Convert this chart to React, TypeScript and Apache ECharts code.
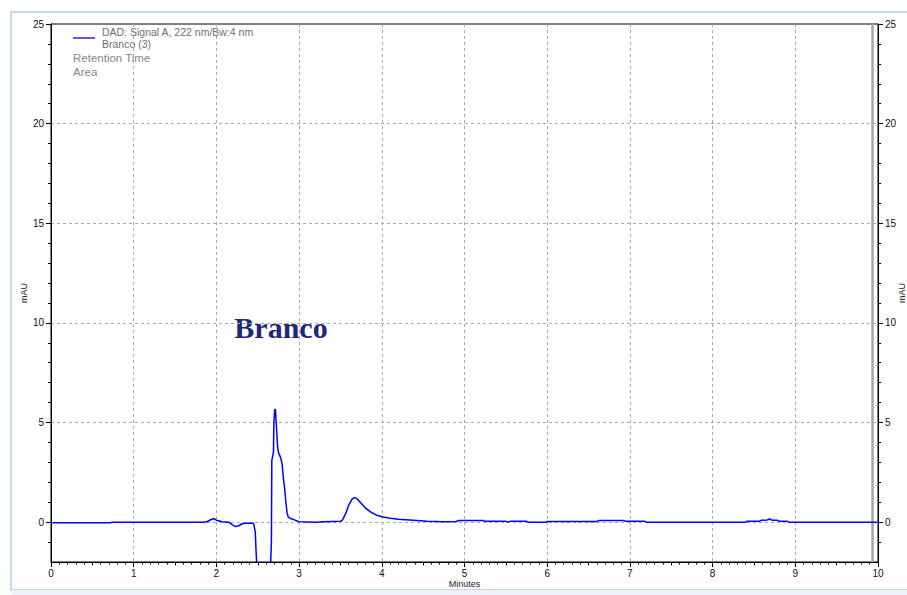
import React, { useEffect, useRef } from "react";
import * as echarts from "echarts";

// Retention time (min) of each sampled point of the DAD trace
const minutes = [
  0, 0.72, 0.74, 0.85, 0.86, 0.87, 1.0, 1.5, 1.85, 1.885, 1.93, 1.97, 2.0, 2.07, 2.15, 2.19, 2.23, 2.27,
  2.31, 2.35, 2.45, 2.47, 2.48, 2.5, 2.55, 2.6, 2.64, 2.665, 2.67, 2.69, 2.695, 2.705, 2.715, 2.72, 2.74,
  2.75, 2.78, 2.795, 2.81, 2.825, 2.84, 2.855, 2.87, 2.9, 2.95, 3.0, 3.2, 3.3, 3.5, 3.52, 3.56, 3.6, 3.64,
  3.67, 3.7, 3.75, 3.8, 3.88, 3.95, 4.0, 4.1, 4.2, 4.38, 4.55, 4.75, 4.9, 4.93, 5.23, 5.25, 5.5, 5.52,
  5.55, 5.75, 5.77, 5.99, 6.0, 6.6, 6.62, 6.93, 6.95, 7.18, 7.2, 8.4, 8.42, 8.57, 8.59, 8.66, 8.69, 8.72,
  8.78, 8.8, 8.9, 8.92, 10,
];

// Absorbance (mAU) at 222 nm for each retention time above
const absorbance = [
  -0.03, -0.03, 0.0, 0.0, -0.03, 0.0, 0.0, 0.0, 0.0, 0.02, 0.12, 0.18, 0.1, 0.02, 0.0, -0.12, -0.22, -0.18,
  -0.08, -0.06, -0.06, -0.5, -1.5, -3, -6, -6, -4, -1, 3.1, 3.5, 5.0, 5.65, 5.65, 5.2, 3.8,
  3.5, 3.2, 2.9, 2.2, 1.7, 1.0, 0.45, 0.25, 0.18, 0.1, 0.02, 0.0, 0.02, 0.05, 0.08, 0.4, 0.85, 1.15,
  1.23, 1.18, 0.95, 0.72, 0.47, 0.33, 0.27, 0.2, 0.15, 0.1, 0.05, 0.02, 0.03, 0.08, 0.08, 0.04, 0.04, 0.0,
  0.04, 0.04, 0.0, 0.0, 0.03, 0.03, 0.08, 0.08, 0.04, 0.04, 0.0, 0.0, 0.05, 0.05, 0.1, 0.11, 0.16, 0.1,
  0.1, 0.05, 0.05, 0.0, 0.0,
];

const yMajorTicks = [0, 5, 10, 15, 20, 25];
const yMinorTicks = [-1, 1, 2, 3, 4, 6, 7, 8, 9, 11, 12, 13, 14, 16, 17, 18, 19, 21, 22, 23, 24];
const cursorMinute = 9.93;

const legendLines = ["DAD: Signal A, 222 nm/Bw:4 nm", "Branco (3)"];
const legendFields = ["Retention Time", "Area"];
const sampleTitle = "Branco";

const FONT = "'Liberation Sans', Arial, sans-serif";

export default function App() {
  const ref = useRef<HTMLDivElement>(null);

  useEffect(() => {
    if (!ref.current) return;
    const chart = echarts.init(ref.current, undefined, { renderer: "svg" });

    const tickLabel = { color: "#111", fontSize: 10, fontFamily: FONT };
    const axisLine = { show: true, onZero: false, lineStyle: { color: "#000", width: 1 } };
    const hiddenLine = { show: false, onZero: false };
    const gridDash = { color: "#a8a8a8", width: 1, type: [3, 3] as number[] };

    const xCommon = { type: "value" as const, min: 0, max: 10, position: "bottom" as const };
    const yCommon = { type: "value" as const, min: -2, max: 25 };

    chart.setOption({
      animation: false,
      backgroundColor: "#fff",
      grid: {
        left: 51,
        right: 29,
        top: 24,
        bottom: 33,
        outerBoundsMode: "none",
        containLabel: false,
        show: true,
        borderColor: "#000",
        borderWidth: 1,
        backgroundColor: "transparent",
      },
      xAxis: [
        {
          ...xCommon,
          interval: 1,
          axisLine,
          axisTick: { show: true, length: 5, lineStyle: { color: "#000" } },
          axisLabel: { ...tickLabel, margin: 6 },
          splitLine: { show: true, lineStyle: gridDash },
          name: "Minutes",
          nameLocation: "middle",
          nameGap: 17,
          nameMoveOverlap: false,
          nameTextStyle: { color: "#222", fontSize: 9, fontFamily: FONT },
        },
        {
          ...xCommon,
          interval: 0.5,
          axisLine: hiddenLine,
          axisTick: { show: true, length: 3.5, lineStyle: { color: "#000" } },
          axisLabel: { show: false },
          splitLine: { show: false },
        },
        {
          ...xCommon,
          interval: 0.1,
          axisLine: hiddenLine,
          axisTick: { show: true, length: 2.5, lineStyle: { color: "#000" } },
          axisLabel: { show: false },
          splitLine: { show: false },
        },
      ],
      yAxis: [
        {
          ...yCommon,
          position: "left",
          axisLine,
          axisTick: { show: true, length: 5, customValues: yMajorTicks, lineStyle: { color: "#000" } },
          axisLabel: { ...tickLabel, margin: 7, customValues: yMajorTicks },
          splitLine: { show: false },
          name: "mAU",
          nameLocation: "middle",
          nameRotate: 90,
          nameGap: 23,
          nameMoveOverlap: false,
          nameTextStyle: { color: "#222", fontSize: 9, fontFamily: FONT },
        },
        {
          ...yCommon,
          position: "left",
          axisLine: hiddenLine,
          axisTick: { show: true, length: 3, customValues: yMinorTicks, lineStyle: { color: "#000" } },
          axisLabel: { show: false },
          splitLine: { show: false },
        },
        {
          ...yCommon,
          position: "right",
          axisLine,
          axisTick: { show: true, length: 5, customValues: yMajorTicks, lineStyle: { color: "#000" } },
          axisLabel: { ...tickLabel, margin: 7, customValues: yMajorTicks },
          splitLine: { show: false },
          name: "mAU",
          nameLocation: "middle",
          nameRotate: 90,
          nameGap: 19,
          nameMoveOverlap: false,
          nameTextStyle: { color: "#222", fontSize: 9, fontFamily: FONT },
        },
        {
          ...yCommon,
          position: "right",
          axisLine: hiddenLine,
          axisTick: { show: true, length: 3, customValues: yMinorTicks, lineStyle: { color: "#000" } },
          axisLabel: { show: false },
          splitLine: { show: false },
        },
      ],
      series: [
        {
          // horizontal grid and the cursor bar
          type: "line",
          xAxisIndex: 0,
          yAxisIndex: 0,
          data: [],
          z: 0,
          markLine: {
            silent: true,
            z: 0,
            symbol: ["none", "none"],
            label: { show: false },
            lineStyle: gridDash,
            data: [
              ...yMajorTicks.filter((v) => v < 25).map((v) => ({ yAxis: v })),
              { xAxis: cursorMinute, lineStyle: { color: "#a4a4a4", width: 2.5, type: "solid" } },
            ],
          },
        },
        {
          type: "line",
          xAxisIndex: 0,
          yAxisIndex: 0,
          z: 10,
          showSymbol: false,
          symbol: "none",
          clip: true,
          lineStyle: { color: "#0000ff", width: 1.5 },
          data: minutes.map((t, i) => [t, absorbance[i]]),
        },
      ],
      graphic: [
        {
          type: "rect",
          z: 0,
          silent: true,
          shape: { x: 11, y: 12, width: 920, height: 578 },
          style: { fill: "none", stroke: "#c6d8ee", lineWidth: 2 },
        },
        {
          type: "rect",
          silent: true,
          shape: { x: 12, y: 590, width: 900, height: 6 },
          style: { fill: "#edf2f9" },
        },
        {
          type: "line",
          silent: true,
          shape: { x1: 73, y1: 38, x2: 95, y2: 38 },
          style: { stroke: "#0000ff", lineWidth: 1.3 },
        },
        ...legendLines.map((t, i) => ({
          type: "text",
          silent: true,
          x: 102,
          y: 32 + i * 12,
          style: {
            text: t,
            fill: "#6e6e6e",
            font: `10.5px ${FONT}`,
            verticalAlign: "middle",
          },
        })),
        ...legendFields.map((t, i) => ({
          type: "text",
          silent: true,
          x: 73,
          y: 58 + i * 14,
          style: {
            text: t,
            fill: "#858585",
            font: `11.5px ${FONT}`,
            verticalAlign: "middle",
          },
        })),
        {
          type: "text",
          silent: true,
          x: 281,
          y: 327,
          style: {
            text: sampleTitle,
            fill: "#1e2878",
            font: "bold 30px 'Liberation Serif', 'Times New Roman', serif",
            align: "center",
            verticalAlign: "middle",
          },
        },
      ],
    });

    return () => chart.dispose();
  }, []);

  return (
    <div
      ref={ref}
      style={{ position: "absolute", left: 0, top: 0, width: 907, height: 595, background: "#fff" }}
    />
  );
}
